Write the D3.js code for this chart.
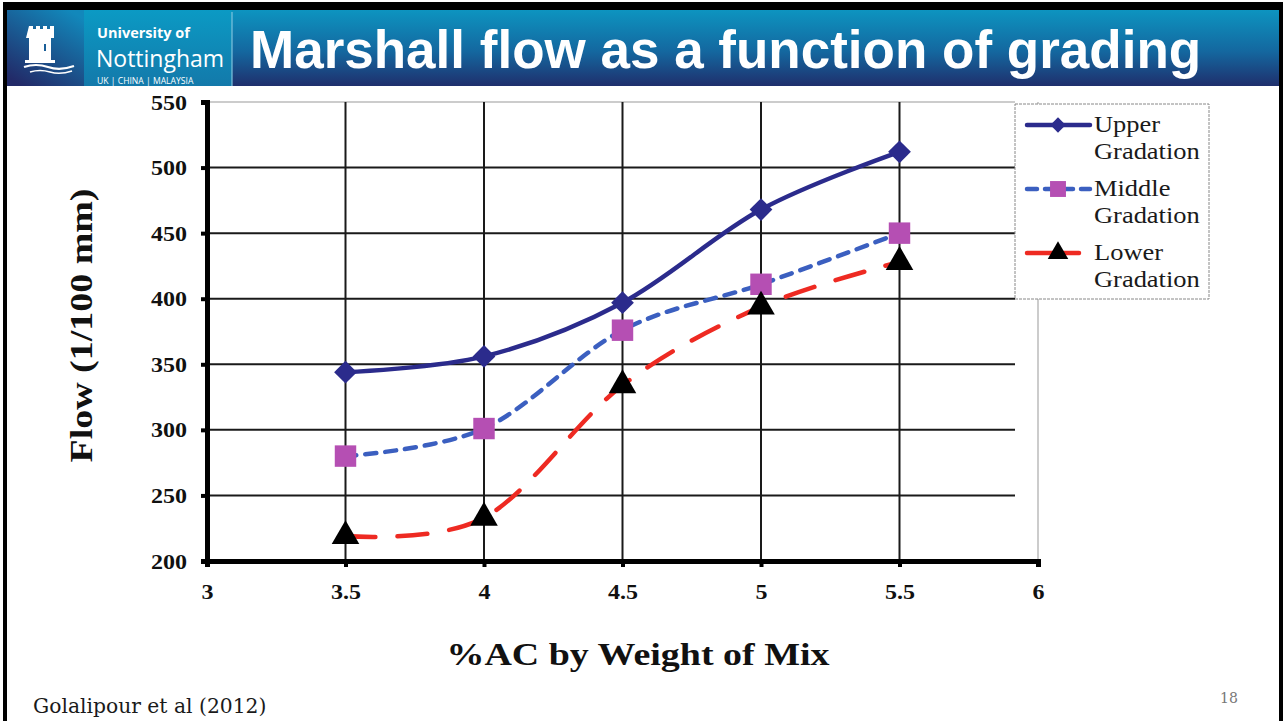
<!DOCTYPE html>
<html>
<head>
<meta charset="utf-8">
<script src="https://cdn.jsdelivr.net/npm/d3@7/dist/d3.min.js"></script>
<style>
  html, body { margin: 0; padding: 0; background: #fff; }
  svg { display: block; }
</style>
</head>
<body>
<svg id="slide" width="1284" height="721"></svg>
<script>
// ---- data ----
const acContent = [3.5, 4, 4.5, 5, 5.5];
const upperFlow = [344, 356, 397, 468, 512];
const middleFlow = [280, 301, 376, 411, 450];
const lowerFlow = [219, 233, 334, 394, 428];
const seriesNames = ["Upper Gradation", "Middle Gradation", "Lower Gradation"];
const xTicks = [3, 3.5, 4, 4.5, 5, 5.5, 6];
const yTicks = [200, 250, 300, 350, 400, 450, 500, 550];

const svg = d3.select("#slide");
const defs = svg.append("defs");

// widen glyphs horizontally by a factor (chart text is set wide)
function stretch(sel, factor) {
  sel.each(function () {
    const w = this.getComputedTextLength();
    d3.select(this).attr("textLength", w * factor).attr("lengthAdjust", "spacingAndGlyphs");
  });
}

// ---- slide frame and header ----
svg.append("rect").attr("x", 4).attr("y", 2).attr("width", 1279).attr("height", 9).attr("fill", "#000");
svg.append("rect").attr("x", 3).attr("y", 2).attr("width", 4).attr("height", 719).attr("fill", "#000");
svg.append("rect").attr("x", 1279).attr("y", 2).attr("width", 4).attr("height", 719).attr("fill", "#000");

const hg = defs.append("linearGradient").attr("id", "hdr").attr("x1", 0).attr("y1", 0).attr("x2", 0).attr("y2", 1);
hg.append("stop").attr("offset", "0%").attr("stop-color", "#0d94c0");
hg.append("stop").attr("offset", "55%").attr("stop-color", "#14679f");
hg.append("stop").attr("offset", "100%").attr("stop-color", "#1f2f6c");
svg.append("rect").attr("x", 7).attr("y", 10).attr("width", 1272).attr("height", 76).attr("fill", "url(#hdr)");

const lg = defs.append("linearGradient").attr("id", "logo").attr("x1", 0.8).attr("y1", 0).attr("x2", 0.2).attr("y2", 1);
lg.append("stop").attr("offset", "0%").attr("stop-color", "#1288bb");
lg.append("stop").attr("offset", "100%").attr("stop-color", "#222a68");
svg.append("rect").attr("x", 7).attr("y", 10).attr("width", 77).attr("height", 76).attr("fill", "url(#logo)");

const ug = defs.append("linearGradient").attr("id", "uni").attr("x1", 0).attr("y1", 0).attr("x2", 0).attr("y2", 1);
ug.append("stop").attr("offset", "0%").attr("stop-color", "#0b9ac4");
ug.append("stop").attr("offset", "100%").attr("stop-color", "#1379aa");
svg.append("rect").attr("x", 84).attr("y", 10).attr("width", 148).attr("height", 76).attr("fill", "url(#uni)");
svg.append("line").attr("x1", 232).attr("x2", 232).attr("y1", 12).attr("y2", 86)
  .attr("stroke", "#7fc3dd").attr("stroke-width", 1.2);

// castle emblem
const castle = svg.append("g").attr("fill", "#fff");
castle.append("path").attr("d",
  "M29,26 h4 v3 h3 v-3 h4 v3 h3 v-3 h4 v3 h3 v-3 h4 v12 h-3 v22 h4 v3 h-30 v-3 h4 v-22 h-3 z");
castle.append("rect").attr("x", 44).attr("y", 44).attr("width", 2).attr("height", 7).attr("fill", "#1a5f98");
castle.append("path").attr("d", "M24,67 q12,-4 24,0 t26,-1").attr("fill", "none")
  .attr("stroke", "#fff").attr("stroke-width", 2.2);
castle.append("path").attr("d", "M30,72 q10,-3 20,0 t22,-1").attr("fill", "none")
  .attr("stroke", "#fff").attr("stroke-width", 1.6);

svg.append("text").attr("x", 97).attr("y", 38).text("University of")
  .attr("font-family", "Open Sans, Liberation Sans, sans-serif").attr("font-weight", 700)
  .attr("font-size", 14.5).attr("fill", "#fff");
svg.append("text").attr("x", 96).attr("y", 67).text("Nottingham")
  .attr("font-family", "Open Sans, Liberation Sans, sans-serif").attr("font-weight", 400)
  .attr("font-size", 23).attr("fill", "#fff");
svg.append("text").attr("x", 97).attr("y", 84).text("UK | CHINA | MALAYSIA")
  .attr("font-family", "Open Sans, Liberation Sans, sans-serif")
  .attr("font-size", 8.6).attr("fill", "#fff");

svg.append("text").attr("x", 250).attr("y", 68).text("Marshall flow as a function of grading")
  .attr("font-family", "Liberation Sans, Arial, sans-serif").attr("font-weight", 700)
  .attr("font-size", 53).attr("fill", "#fff");

// ---- chart ----
const x = d3.scaleLinear().domain([3, 6]).range([207, 1038]);
const y = d3.scaleLinear().domain([200, 550]).range([561, 102]);
const serif = "Liberation Serif, Times New Roman, serif";

const grid = svg.append("g");
grid.selectAll("line.h").data(yTicks.filter(v => v > 200)).join("line")
  .attr("x1", x(3)).attr("x2", 1015)
  .attr("y1", d => y(d)).attr("y2", d => y(d))
  .attr("stroke", d => d === 550 ? "#999" : "#1a1a1a")
  .attr("stroke-width", d => d === 550 ? 1 : 2);
grid.selectAll("line.v").data(xTicks.filter(v => v > 3)).join("line")
  .attr("y1", y(200)).attr("y2", y(550))
  .attr("x1", d => x(d)).attr("x2", d => x(d))
  .attr("stroke", d => d === 6 ? "#999" : "#1a1a1a")
  .attr("stroke-width", d => d === 6 ? 1 : 2);

// axes
const yAxis = svg.append("g").attr("transform", `translate(${x(3)},0)`)
  .call(d3.axisLeft(y).tickValues(yTicks).tickSize(6).tickPadding(14).tickFormat(d3.format("d")));
const xAxis = svg.append("g").attr("transform", `translate(0,${y(200)})`)
  .call(d3.axisBottom(x).tickValues(xTicks).tickSize(6).tickPadding(18).tickFormat(d => String(d)));
[yAxis, xAxis].forEach(g => {
  g.select(".domain").attr("stroke", "#000").attr("stroke-width", 5);
  g.selectAll(".tick line").attr("stroke", "#000").attr("stroke-width", 4);
  g.selectAll(".tick text").attr("fill", "#111").attr("font-family", serif)
    .attr("font-weight", 700).attr("font-size", 20);
  stretch(g.selectAll(".tick text"), 1.2);
});
yAxis.selectAll(".tick text").attr("dy", "0.35em");

const yTitle = svg.append("text").attr("transform", `translate(92,${(y(200) + y(550)) / 2 - 6}) rotate(-90)`)
  .attr("text-anchor", "middle").text("Flow (1/100 mm)")
  .attr("font-family", serif).attr("font-weight", 700).attr("font-size", 31).attr("fill", "#111");
yTitle.attr("textLength", 274).attr("lengthAdjust", "spacingAndGlyphs");
const xTitle = svg.append("text").attr("x", 638).attr("y", 665)
  .attr("text-anchor", "middle").text("%AC by Weight of Mix")
  .attr("font-family", serif).attr("font-weight", 700).attr("font-size", 32).attr("fill", "#111");
xTitle.attr("textLength", 383).attr("lengthAdjust", "spacingAndGlyphs");

// series
const series = [
  { values: upperFlow, color: "#2b2b8c", dash: null, marker: "diamond", markerColor: "#2b2b8c" },
  { values: middleFlow, color: "#3b5fc0", dash: "11,9", marker: "square", markerColor: "#b54fb3" },
  { values: lowerFlow, color: "#ee2a22", dash: "30,22", marker: "triangle", markerColor: "#000" }
];
const line = d3.line().x(d => x(d[0])).y(d => y(d[1])).curve(d3.curveCatmullRom.alpha(0));
function marker(kind, scale) {
  if (kind === "square") return d3.symbol().type(d3.symbolSquare).size(460 * scale)();
  if (kind === "diamond") return d3.symbol().type(d3.symbolDiamond2).size(330 * scale)();
  return d3.symbol().type(d3.symbolTriangle).size(330 * scale)();
}

const plot = svg.append("g");
series.forEach(s => {
  const pts = acContent.map((a, i) => [a, s.values[i]]);
  plot.append("path").attr("d", line(pts)).attr("fill", "none")
    .attr("stroke", s.color).attr("stroke-width", 4.5).attr("stroke-linecap", "round")
    .attr("stroke-dasharray", s.dash);
});
series.forEach(s => {
  const pts = acContent.map((a, i) => [a, s.values[i]]);
  plot.selectAll(null).data(pts).join("path")
    .attr("transform", d => `translate(${x(d[0])},${y(d[1])})`)
    .attr("d", marker(s.marker, 1))
    .attr("fill", s.markerColor);
});

// legend
const leg = svg.append("g").attr("transform", "translate(1015,104)");
leg.append("rect").attr("width", 194).attr("height", 195).attr("fill", "#fff")
  .attr("stroke", "#888").attr("stroke-width", 1).attr("stroke-dasharray", "3,1");
series.forEach((s, i) => {
  const cy = 21 + i * 64;
  leg.append("line").attr("x1", 12).attr("x2", i === 2 ? 64 : 75).attr("y1", cy).attr("y2", cy)
    .attr("stroke", s.color).attr("stroke-width", 4.5).attr("stroke-linecap", "round")
    .attr("stroke-dasharray", i === 1 ? "10,8" : null);
  leg.append("path").attr("transform", `translate(43,${cy})`)
    .attr("d", marker(s.marker, s.marker === "diamond" ? 0.45 : 0.55))
    .attr("fill", s.markerColor);
  const words = seriesNames[i].split(" ");
  words.forEach((w, j) => {
    const t = leg.append("text").attr("x", 79).attr("y", cy + 7 + j * 27).text(w)
      .attr("font-family", serif).attr("font-size", 23).attr("fill", "#1a1a1a");
    stretch(t, 1.15);
  });
});

// footer
svg.append("text").attr("x", 33).attr("y", 713).text("Golalipour et al (2012)")
  .attr("font-family", "DejaVu Serif, Liberation Serif, serif").attr("font-size", 20.3).attr("fill", "#1a1a1a");
svg.append("text").attr("x", 1220).attr("y", 703).text("18")
  .attr("font-family", "DejaVu Serif, Liberation Serif, serif").attr("font-size", 14).attr("fill", "#777");
</script>
</body>
</html>
